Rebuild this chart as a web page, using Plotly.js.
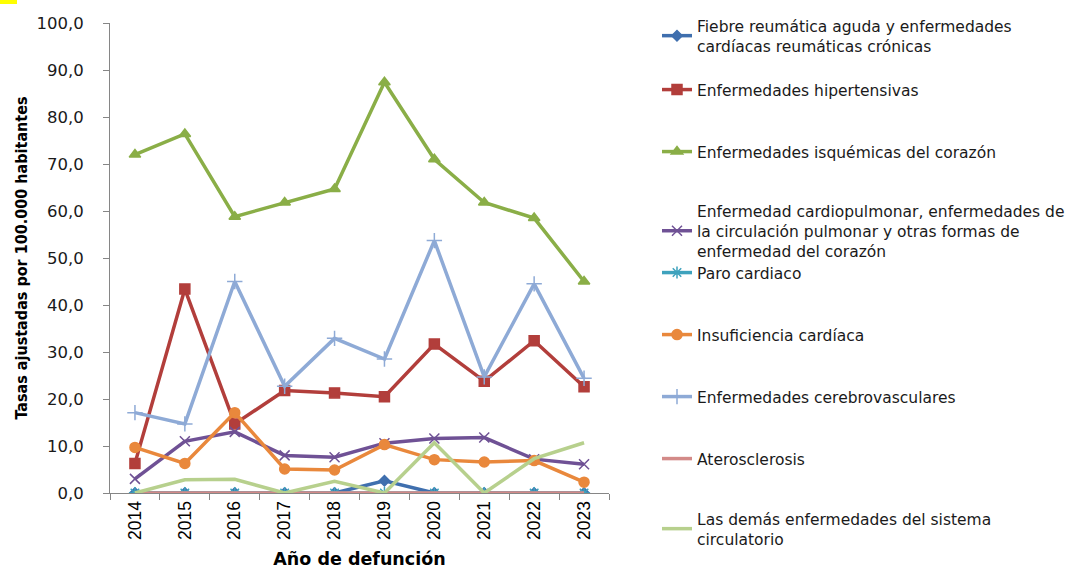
<!DOCTYPE html>
<html>
<head>
<meta charset="utf-8">
<script src="https://cdn.plot.ly/plotly-3.0.1.min.js"></script>
<style>html,body{margin:0;padding:0;background:#fff;}#chart{width:1086px;height:569px;}</style>
</head>
<body>
<div id="chart"></div>
<script>
const years = ["2014","2015","2016","2017","2018","2019","2020","2021","2022","2023"];
const seriesNames = [
  "Fiebre reumática aguda y enfermedades<br>cardíacas reumáticas crónicas",
  "Enfermedades hipertensivas",
  "Enfermedades isquémicas del corazón",
  "Enfermedad cardiopulmonar, enfermedades de<br>la circulación pulmonar y otras formas de<br>enfermedad del corazón",
  "Paro cardiaco",
  "Insuficiencia cardíaca",
  "Enfermedades cerebrovasculares",
  "Aterosclerosis",
  "Las demás enfermedades del sistema<br>circulatorio"
];
const fiebre = [0, 0, 0, 0, 0, 2.6, 0, 0, 0, 0];
const hipertensivas = [6.3, 43.4, 14.7, 21.8, 21.3, 20.5, 31.7, 23.8, 32.4, 22.6];
const isquemicas = [72.0, 76.4, 58.8, 61.8, 64.7, 87.4, 71.0, 61.8, 58.5, 45.0];
const cardiopulmonar = [3.0, 11.0, 13.0, 8.0, 7.6, 10.6, 11.6, 11.8, 7.2, 6.1];
const paro = [0, 0, 0, 0, 0, 0, 0, 0, 0, 0];
const insuficiencia = [9.7, 6.3, 17.1, 5.1, 4.9, 10.3, 7.1, 6.6, 6.9, 2.3];
const cerebrovasculares = [17.1, 14.7, 45.0, 22.7, 32.9, 28.5, 53.7, 24.7, 44.5, 24.4];
const aterosclerosis = [0, 0, 0, 0, 0, 0, 0, 0, 0, 0];
const demas = [0, 2.8, 2.9, 0, 2.5, 0, 10.7, 0, 7.3, 10.7];
const yTicks = [0, 10, 20, 30, 40, 50, 60, 70, 80, 90, 100];

const values = [fiebre, hipertensivas, isquemicas, cardiopulmonar, paro, insuficiencia, cerebrovasculares, aterosclerosis, demas];
const styles = [
  {color:"#3f6fae", symbol:"diamond", size:8, mode:"lines+markers"},
  {color:"#b23e3b", symbol:"square", size:10, mode:"lines+markers"},
  {color:"#8aae47", symbol:"triangle-up", size:10, mode:"lines+markers"},
  {color:"#6f5195", symbol:"x-thin", size:10, mode:"lines+markers"},
  {color:"#3ea2bd", symbol:"asterisk", size:10, mode:"lines+markers"},
  {color:"#e9883c", symbol:"circle", size:10, mode:"lines+markers"},
  {color:"#8eaad6", symbol:"cross-thin", size:11, mode:"lines+markers"},
  {color:"#d38a88", symbol:"circle", size:1, mode:"lines"},
  {color:"#b7d08d", symbol:"circle", size:1, mode:"lines"}
];
// legend item vertical centers (px from top of page)
const legendCenters = [36, 90, 152, 231, 273, 335, 397, 459, 529];

const traces = values.map((v, i) => ({
  type: "scatter",
  x: years,
  y: v,
  name: seriesNames[i],
  mode: styles[i].mode,
  line: {color: styles[i].color, width: 3.5},
  marker: {color: styles[i].color, symbol: styles[i].symbol, size: styles[i].size,
           line: {color: styles[i].color, width: 1.5}},
  legend: i === 0 ? "legend" : "legend" + (i + 1),
  hoverinfo: "x+y+name"
}));

const W = 1086, H = 569;
const legendFont = {family: "DejaVu Sans, Liberation Sans, Arial, sans-serif", size: 15.5, color: "#1a1a1a"};
const layout = {
  width: W, height: H,
  margin: {l: 110, r: 477, t: 23, b: 76},
  paper_bgcolor: "#ffffff",
  plot_bgcolor: "#ffffff",
  separators: ",.",
  showlegend: true,
  xaxis: {
    type: "category",
    range: [-0.5, 9.5],
    showline: true, linecolor: "#868686", linewidth: 1,
    ticks: "outside", tickson: "boundaries", ticklen: 6, tickcolor: "#868686",
    tickangle: -90,
    tickfont: {family: "Liberation Sans, Arial, sans-serif", size: 17.5, color: "#000"},
    showgrid: false, zeroline: false,
    title: {text: "<b>Año de defunción</b>", font: {family: "DejaVu Sans, Liberation Sans, Arial, sans-serif", size: 17.5, color: "#000"}, standoff: 19}
  },
  yaxis: {
    range: [0, 100],
    tickvals: yTicks,
    tickformat: ".1f",
    showline: true, linecolor: "#868686", linewidth: 1,
    ticks: "outside", ticklen: 6, tickcolor: "#868686",
    ticklabelstandoff: 16,
    tickfont: {family: "DejaVu Sans, Liberation Sans, Arial, sans-serif", size: 16.5, color: "#1a1a1a"},
    showgrid: false, zeroline: false,
    title: {text: "<b>Tasas ajustadas por 100.000 habitantes</b>", font: {family: "Liberation Sans Narrow, DejaVu Sans Condensed, Arial Narrow, sans-serif", size: 16, color: "#000"}, standoff: 4}
  },
  shapes: [{
    type: "rect", xref: "paper", yref: "paper",
    x0: -110/499, x1: -93/499, y0: 1 + 19/470, y1: 1 + 23/470,
    fillcolor: "#ffff00", line: {width: 0}
  }]
};
legendCenters.forEach((c, i) => {
  const key = i === 0 ? "legend" : "legend" + (i + 1);
  layout[key] = {
    xref: "container", yref: "container",
    x: 657 / W, y: 1 - c / H,
    xanchor: "left", yanchor: "middle",
    bgcolor: "rgba(0,0,0,0)", borderwidth: 0,
    font: legendFont, itemwidth: 30
  };
});

Plotly.newPlot("chart", traces, layout, {displayModeBar: false, staticPlot: true});
</script>
</body>
</html>
